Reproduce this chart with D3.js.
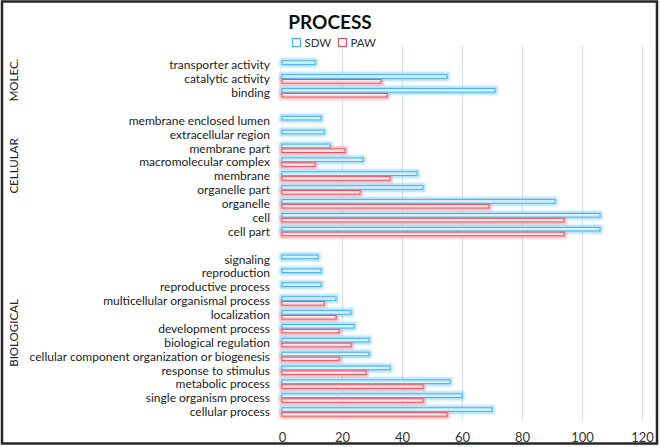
<!DOCTYPE html>
<html><head><meta charset="utf-8">
<script src="https://cdn.jsdelivr.net/npm/d3@7"></script>
<style>body{margin:0;background:#fff}svg{display:block}</style>
</head><body>
<script>
const molecCats = ["transporter activity","catalytic activity","binding"];
const molecSDW = [11,55,71];
const molecPAW = [0,33,35];
const cellCats = ["membrane enclosed lumen","extracellular region","membrane part","macromolecular complex","membrane","organelle part","organelle","cell","cell part"];
const cellSDW = [13,14,16,27,45,47,91,106,106];
const cellPAW = [0,0,21,11,36,26,69,94,94];
const bioCats = ["signaling","reproduction","reproductive process","multicellular organismal process","localization","development process","biological regulation","cellular component organization or biogenesis","response to stimulus","metabolic process","single organism process","cellular process"];
const bioSDW = [12,13,13,18,23,24,29,29,36,56,60,70];
const bioPAW = [0,0,0,14,18,19,23,19,28,47,47,55];
const groupLabels = ["MOLEC.","CELLULAR","BIOLOGICAL"];
const seriesNames = ["SDW","PAW"];
const xTicks = [0,20,40,60,80,100,120];

const W=660,H=447;
const svg=d3.select("body").append("svg").attr("width",W).attr("height",H);
const defs=svg.append("defs");
const f=defs.append("filter").attr("id","glow").attr("x","-20%").attr("y","-200%").attr("width","140%").attr("height","500%");
f.append("feGaussianBlur").attr("stdDeviation",1.1);

svg.append("rect").attr("x",2).attr("y",1.5).attr("width",655).attr("height",442).attr("fill","#fff").attr("stroke","#262626").attr("stroke-width",2.5);

const rows=[];
molecCats.forEach((c,i)=>rows.push({key:"m"+i,cat:c,sdw:molecSDW[i],paw:molecPAW[i]}));
rows.push({key:"gap1"});
cellCats.forEach((c,i)=>rows.push({key:"c"+i,cat:c,sdw:cellSDW[i],paw:cellPAW[i]}));
rows.push({key:"gap2"});
bioCats.forEach((c,i)=>rows.push({key:"b"+i,cat:c,sdw:bioSDW[i],paw:bioPAW[i]}));

const x=d3.scaleLinear().domain([0,120]).range([282,642]);
const y=d3.scaleBand().domain(rows.map(r=>r.key)).range([58.1,418.9]);
const sub=d3.scaleBand().domain(seriesNames).range([-4.7,4.7]).paddingInner(0.05);

svg.append("g").selectAll("line").data(xTicks.filter(t=>t>0)).join("line")
  .attr("x1",d=>x(d)+0.5).attr("x2",d=>x(d)+0.5).attr("y1",46).attr("y2",420)
  .attr("stroke","#d3def3").attr("stroke-width",1.2);

const ax=svg.append("g").attr("transform","translate(0,430)")
  .call(d3.axisBottom(x).tickValues(xTicks).tickSize(0).tickPadding(0));
ax.select(".domain").remove();
ax.selectAll("text").attr("font-family","Lato, 'Open Sans', sans-serif").attr("font-size",13).attr("fill","#333").attr("dy","0.9em");

const cols={SDW:{stroke:"#44b0ec",fill:"#d9f1fd",glow:"#8fd3f7"},PAW:{stroke:"#e5525f",fill:"#fde3e5",glow:"#f39aa2"}};
const data=rows.filter(r=>r.cat);
const bars=[];
data.forEach(r=>{
  if(r.sdw>0)bars.push({key:r.key,s:"SDW",v:r.sdw});
  if(r.paw>0)bars.push({key:r.key,s:"PAW",v:r.paw});
});
const bg=svg.append("g");
bg.selectAll("rect.g").data(bars).join("rect").attr("class","g")
  .attr("x",x(0)-1).attr("y",d=>y(d.key)+y.bandwidth()/2+sub(d.s)-0.5)
  .attr("width",d=>x(d.v)-x(0)+2).attr("height",sub.bandwidth()+1)
  .attr("fill","none").attr("stroke",d=>cols[d.s].glow).attr("stroke-width",3).attr("opacity",0.8)
  .attr("filter","url(#glow)");
bg.selectAll("rect.b").data(bars).join("rect").attr("class","b")
  .attr("x",x(0)).attr("y",d=>y(d.key)+y.bandwidth()/2+sub(d.s)+0.5)
  .attr("width",d=>x(d.v)-x(0)).attr("height",sub.bandwidth()-1)
  .attr("fill",d=>cols[d.s].fill).attr("stroke",d=>cols[d.s].stroke).attr("stroke-width",1);

svg.append("g").selectAll("text").data(data).join("text")
  .attr("x",270).attr("y",d=>y(d.key)+y.bandwidth()/2).attr("dy","0.35em")
  .attr("text-anchor","end").attr("font-family","Lato, sans-serif").attr("font-size",12).attr("fill","#222")
  .text(d=>d.cat);

const gpos=[80,166,333];
svg.append("g").selectAll("text").data(groupLabels).join("text")
  .attr("transform",(d,i)=>`translate(18,${gpos[i]}) rotate(-90)`)
  .attr("text-anchor","middle").attr("font-family","Lato, sans-serif").attr("font-size",11.5).attr("fill","#222")
  .text(d=>d);

svg.append("text").attr("x",330).attr("y",29).attr("text-anchor","middle")
  .attr("font-family","Lato, sans-serif").attr("font-weight","bold").attr("font-size",19).attr("fill","#111").text("PROCESS");

const lg=svg.append("g");
const lx=[292,338];
seriesNames.forEach((s,i)=>{
  lg.append("rect").attr("x",lx[i]+0.5).attr("y",38.5).attr("width",8).attr("height",8)
    .attr("fill","#fff").attr("stroke",cols[s].stroke).attr("stroke-width",1.2);
  lg.append("text").attr("x",lx[i]+12.5).attr("y",43).attr("dy","0.35em")
    .attr("font-family","Lato, sans-serif").attr("font-size",11.5).attr("fill","#333").text(s);
});
</script>
</body></html>
